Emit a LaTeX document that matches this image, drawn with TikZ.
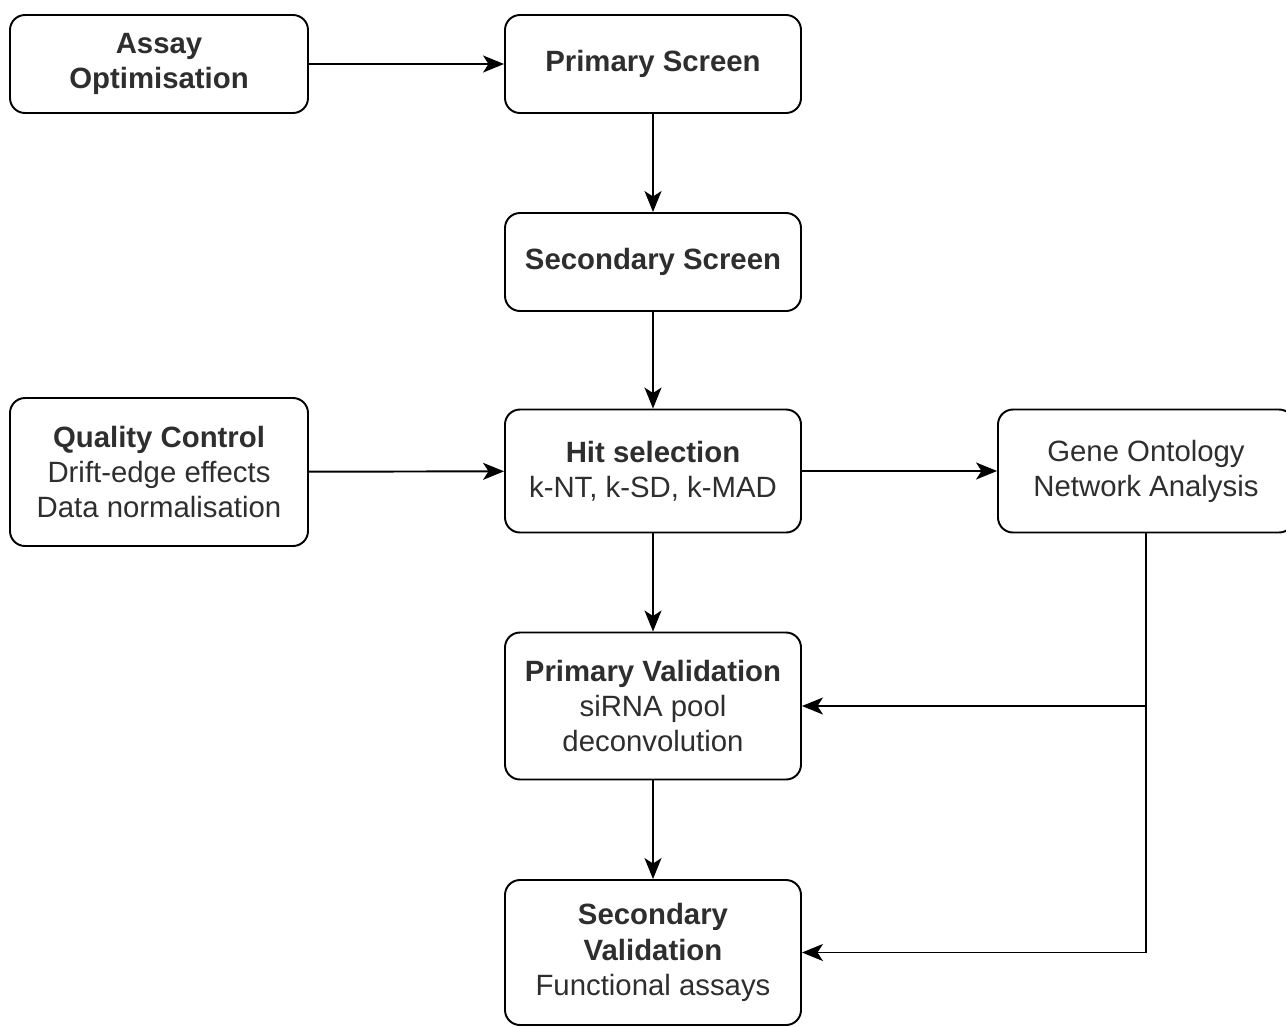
\documentclass[tikz,border=0pt]{standalone}
\usepackage{fontspec}
\setmainfont{Liberation Sans}
\usetikzlibrary{arrows.meta}
\begin{document}
\begin{tikzpicture}[line width=1.1pt,font=\fontsize{16.7}{20}\selectfont,
  stage/.style={draw,rounded corners=0.3cm,align=center,inner sep=0pt,
    minimum width=5.92cm,minimum height=1.96cm,text=black!82,
    execute at begin node={\vspace*{0.08cm}}},
  flow/.style={-{Stealth[length=0.42cm,width=0.34cm,inset=0.11cm]}}]
\useasboundingbox (0,0) rectangle (25.72,-20.52);
%top row
 \node[stage,minimum width=5.96cm] (assay) at (3.18,-1.28) {\textbf{Assay}\\\textbf{Optimisation}};
 \node[stage] (pscreen) at (13.06,-1.28) {\textbf{Primary Screen}};
 \node[stage] (sscreen) at (13.06,-5.24) {\textbf{Secondary Screen}};
%middle row
 \node[stage,minimum width=5.96cm,minimum height=2.96cm] (qc) at (3.18,-9.44)
  {\textbf{Quality Control}\\Drift-edge effects\\Data normalisation};
 \node[stage,minimum height=2.46cm] (hit) at (13.06,-9.42) {\textbf{Hit selection}\\k-NT, k-SD, k-MAD};
 \node[stage,minimum height=2.46cm] (gene) at (22.92,-9.42) {Gene Ontology\\Network Analysis};
%validation
 \node[stage,minimum height=2.94cm] (pval) at (13.06,-14.12) {\textbf{Primary Validation}\\siRNA pool\\deconvolution};
 \node[stage,minimum height=2.9cm] (sval) at (13.06,-19.05) {\textbf{Secondary}\\\textbf{Validation}\\Functional assays};
%arrows
 \draw[flow] (assay) -- (pscreen);
 \draw[flow] (pscreen) -- (sscreen);
 \draw[flow] (sscreen) -- (hit);
 \draw[flow] (qc) -- (hit);
 \draw[flow] (hit) -- (gene);
 \draw[flow] (hit) -- (pval);
 \draw[flow] (pval) -- (sval);
 \coordinate (branch) at (gene.south |- pval.east); %split point
 \draw[flow] (gene.south) |- (sval.east);
 \draw[flow] (branch) -- (pval.east);
\end{tikzpicture}
\end{document}
